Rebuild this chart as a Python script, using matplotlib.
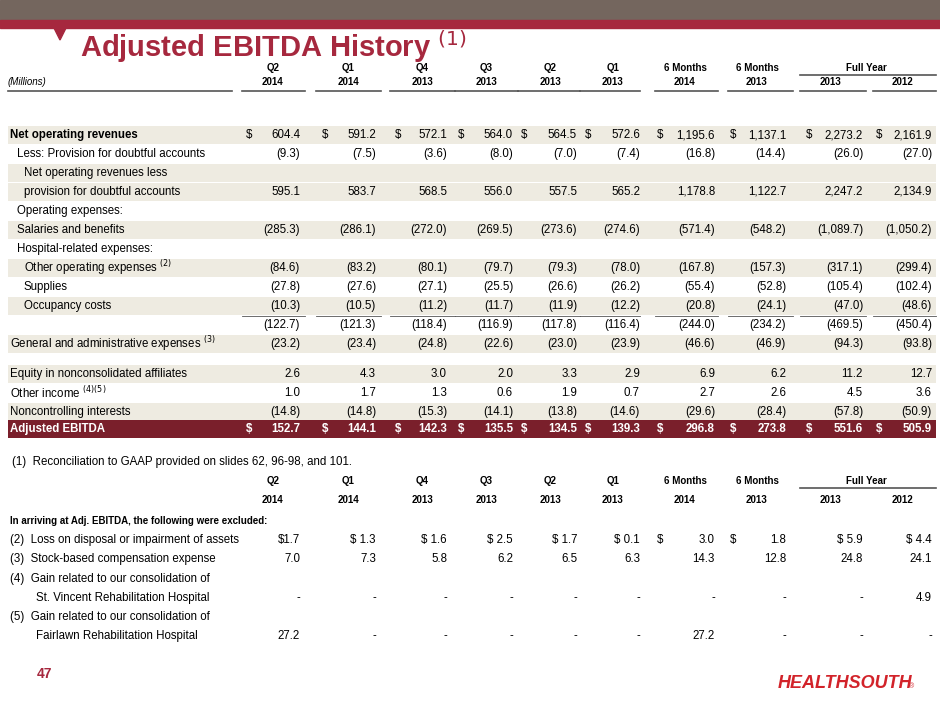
import matplotlib
matplotlib.use("Agg")
import matplotlib.pyplot as plt
from matplotlib.patches import Rectangle, Polygon

plt.rcParams['font.family'] = ['Liberation Sans', 'DejaVu Sans']

periods_q = ["Q2", "Q1", "Q4", "Q3", "Q2", "Q1", "6 Months", "6 Months"]
periods_y = ["2014", "2014", "2013", "2013", "2013", "2013", "2014", "2013", "2013", "2012"]

# (label, values, shaded, indent)
rows = [
    ("Net operating revenues", ["604.4", "591.2", "572.1", "564.0", "564.5", "572.6", "1,195.6", "1,137.1", "2,273.2", "2,161.9"], True, 0),
    ("Less: Provision for doubtful accounts", ["(9.3)", "(7.5)", "(3.6)", "(8.0)", "(7.0)", "(7.4)", "(16.8)", "(14.4)", "(26.0)", "(27.0)"], False, 1),
    ("Net operating revenues less", None, True, 2),
    ("provision for doubtful accounts", ["595.1", "583.7", "568.5", "556.0", "557.5", "565.2", "1,178.8", "1,122.7", "2,247.2", "2,134.9"], True, 2),
    ("Operating expenses:", None, False, 1),
    ("Salaries and benefits", ["(285.3)", "(286.1)", "(272.0)", "(269.5)", "(273.6)", "(274.6)", "(571.4)", "(548.2)", "(1,089.7)", "(1,050.2)"], True, 1),
    ("Hospital-related expenses:", None, False, 1),
    ("Other operating expenses $^{(2)}$", ["(84.6)", "(83.2)", "(80.1)", "(79.7)", "(79.3)", "(78.0)", "(167.8)", "(157.3)", "(317.1)", "(299.4)"], True, 2),
    ("Supplies", ["(27.8)", "(27.6)", "(27.1)", "(25.5)", "(26.6)", "(26.2)", "(55.4)", "(52.8)", "(105.4)", "(102.4)"], False, 2),
    ("Occupancy costs", ["(10.3)", "(10.5)", "(11.2)", "(11.7)", "(11.9)", "(12.2)", "(20.8)", "(24.1)", "(47.0)", "(48.6)"], True, 2),
    ("", ["(122.7)", "(121.3)", "(118.4)", "(116.9)", "(117.8)", "(116.4)", "(244.0)", "(234.2)", "(469.5)", "(450.4)"], False, 0),
    ("General and administrative expenses $^{(3)}$", ["(23.2)", "(23.4)", "(24.8)", "(22.6)", "(23.0)", "(23.9)", "(46.6)", "(46.9)", "(94.3)", "(93.8)"], True, 0),
    (None, None, False, 0),
    ("Equity in nonconsolidated affiliates", ["2.6", "4.3", "3.0", "2.0", "3.3", "2.9", "6.9", "6.2", "11.2", "12.7"], True, 0),
    ("Other income $^{(4)(5)}$", ["1.0", "1.7", "1.3", "0.6", "1.9", "0.7", "2.7", "2.6", "4.5", "3.6"], False, 0),
    ("Noncontrolling interests", ["(14.8)", "(14.8)", "(15.3)", "(14.1)", "(13.8)", "(14.6)", "(29.6)", "(28.4)", "(57.8)", "(50.9)"], True, 0),
]
ebitda = ["152.7", "144.1", "142.3", "135.5", "134.5", "139.3", "296.8", "273.8", "551.6", "505.9"]

rows2 = [
    ("(2)  Loss on disposal or impairment of assets", ["$1.7", "$ 1.3", "$ 1.6", "$ 2.5", "$ 1.7", "$ 0.1", "3.0", "1.8", "$ 5.9", "$ 4.4"]),
    ("(3)  Stock-based compensation expense", ["7.0", "7.3", "5.8", "6.2", "6.5", "6.3", "14.3", "12.8", "24.8", "24.1"]),
    ("(4)  Gain related to our consolidation of", None),
    ("        St. Vincent Rehabilitation Hospital", ["-", "-", "-", "-", "-", "-", "-", "-", "-", "4.9"]),
    ("(5)  Gain related to our consolidation of", None),
    ("        Fairlawn Rehabilitation Hospital", ["27.2", "-", "-", "-", "-", "-", "27.2", "-", "-", "-"]),
]

centers = [273, 348, 422, 486, 550, 613, 685, 757, 831, 902]
rights = [300, 376, 447, 513, 577, 640, 715, 786, 863, 932]
dollars = [246, 322, 395, 458, 521, 585, 657, 730, 806, 876]
ulines = [(242, 305), (316, 381), (390, 455), (455, 518), (518, 580), (580, 640),
          (655, 718), (728, 793), (800, 866), (873, 936)]

RED = "#A6283E"
DARK = "#7A1F2B"
BEIGE = "#EEEBE1"
FS = 8.3

fig = plt.figure(figsize=(9.4, 7.05), dpi=100)
ax = fig.add_axes([0, 0, 1, 1])
ax.set_xlim(0, 940)
ax.set_ylim(705, 0)
ax.axis("off")

# banner
ax.add_patch(Rectangle((0, 0), 940, 20, color="#74665E"))
ax.add_patch(Rectangle((0, 20), 940, 8, color=RED))
ax.add_patch(Polygon([(54, 28), (66, 28), (60, 40)], color=RED))
ax.text(80, 47, "Adjusted EBITDA History $^{(1)}$", color=RED, fontsize=21,
        fontweight="bold", va="center")


def header(y1, y2, millions):
    for i, c in enumerate(centers[:8]):
        ax.text(c, y1, periods_q[i], ha="center", va="center", fontsize=7, fontweight="bold")
    ax.text((centers[8] + centers[9]) / 2, y1, "Full Year", ha="center", va="center",
            fontsize=7, fontweight="bold")
    ax.plot([800, 936], [y1 + 7, y1 + 7], color="#555555", lw=1.2)
    for i, c in enumerate(centers):
        ax.text(c, y2, periods_y[i], ha="center", va="center", fontsize=7, fontweight="bold")
        if millions:
            ax.plot(ulines[i], [y2 + 9, y2 + 9], color="#555555", lw=1.2)
    if millions:
        ax.text(8, y2, "(Millions)", fontsize=7, style="italic", va="center")
        ax.plot([8, 232], [y2 + 9, y2 + 9], color="#555555", lw=1.2)


header(68, 82, True)

y = 135
step = 19
for label, vals, shaded, indent in rows:
    if label is None:
        y += 11
        continue
    if shaded:
        ax.add_patch(Rectangle((8, y - 9), 928, 18, color=BEIGE, lw=0))
    bold = label == "Net operating revenues"
    ax.text(10 + indent * 7, y, label, fontsize=FS, va="center",
            fontweight="bold" if bold else "normal")
    if vals:
        for i, v in enumerate(vals):
            ax.text(rights[i], y, v, fontsize=FS, ha="right", va="center")
            if bold:
                ax.text(dollars[i], y, "$", fontsize=FS, ha="left", va="center")
    if label == "":
        for a, b in ulines:
            ax.plot([a, b], [y - 9, y - 9], color="#555555", lw=0.6)
    y += step

ax.add_patch(Rectangle((8, y - 11), 928, 18, color=DARK, lw=0))
ax.text(10, y - 2, "Adjusted EBITDA", fontsize=FS, color="white", fontweight="bold", va="center")
for i, v in enumerate(ebitda):
    ax.text(rights[i], y - 2, v, fontsize=FS, color="white", fontweight="bold", ha="right", va="center")
    ax.text(dollars[i], y - 2, "$", fontsize=FS, color="white", fontweight="bold", va="center")

ax.text(12, 462, "(1)  Reconciliation to GAAP provided on slides 62, 96-98, and 101.",
        fontsize=FS, va="center")

header(481, 500, False)
ax.text(10, 521, "In arriving at Adj. EBITDA, the following were excluded:", fontsize=7,
        fontweight="bold", va="center")
y = 540
for label, vals in rows2:
    ax.text(10, y, label, fontsize=FS, va="center")
    if vals:
        for i, v in enumerate(vals):
            ax.text(rights[i], y, v, fontsize=FS, ha="right", va="center")
        if label.startswith("(2)"):
            ax.text(dollars[6], y, "$", fontsize=FS, va="center")
            ax.text(dollars[7], y, "$", fontsize=FS, va="center")
    y += 19.3

ax.text(37, 674, "47", color=RED, fontsize=10, fontweight="bold", va="center")
ax.text(845, 683, "HEALTHSOUTH", color="#D2232A", fontsize=13, fontweight="bold",
        style="italic", ha="center", va="center")
ax.text(909, 687, "®", color="#D2232A", fontsize=5, va="center")

fig.savefig("out.png", dpi=100)
